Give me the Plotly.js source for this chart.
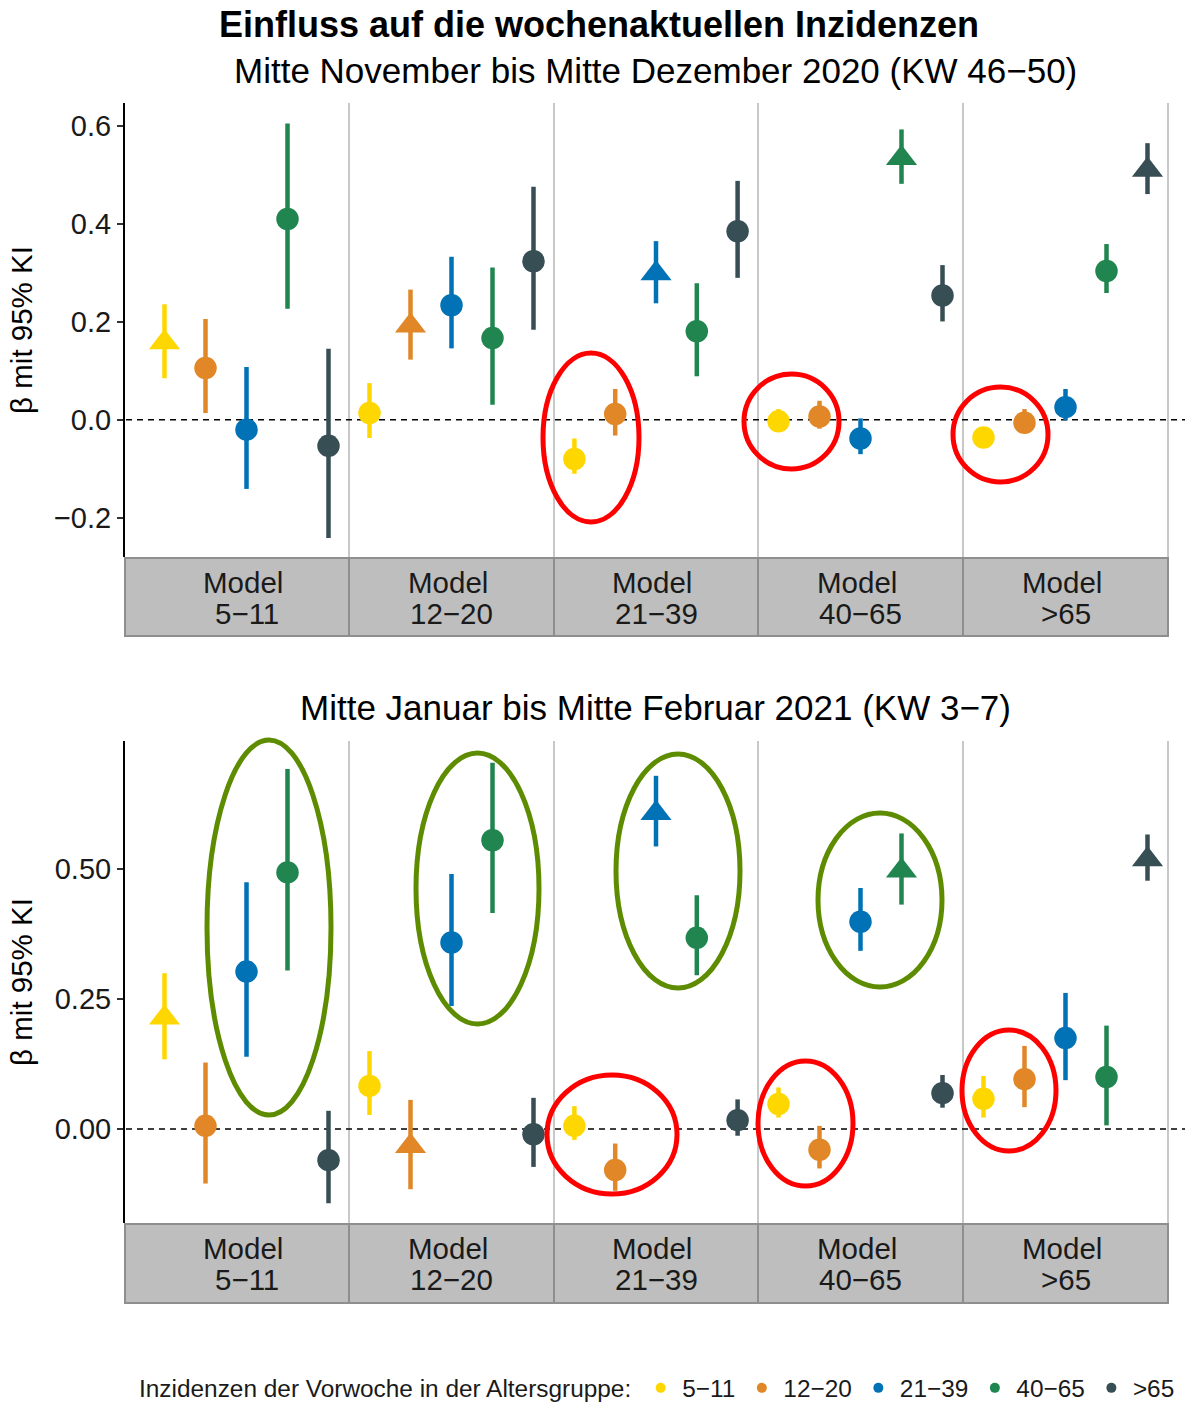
<!DOCTYPE html>
<html><head><meta charset="utf-8">
<script src="https://cdn.plot.ly/plotly-3.0.1.min.js"></script>
<style>body{margin:0;background:#fff}</style>
</head><body><div id="chart" style="width:1185px;height:1402px"></div>
<script>
// ---------- data ----------
const groups = ['5−11', '12−20', '21−39', '40−65', '>65'];
const modelLabels = ['5−11', '12−20', '21−39', '40−65', '>65'];
const groupColors = ['#FFD700', '#E18727', '#0072B5', '#20854E', '#374E55'];
const panelTitles = ['Mitte November bis Mitte Dezember 2020 (KW 46−50)', 'Mitte Januar bis Mitte Februar 2021 (KW 3−7)'];

// Panel 1: KW 46-50 — rows = model, columns = predictor group
const novEst = [
  [0.158, 0.106, -0.020, 0.410, -0.053],
  [0.014, 0.192, 0.234, 0.167, 0.324],
  [-0.080, 0.012, 0.299, 0.181, 0.385],
  [-0.003, 0.007, -0.038, 0.534, 0.254],
  [-0.036, -0.006, 0.026, 0.304, 0.510]
];
const novLo = [
  [0.085, 0.014, -0.141, 0.227, -0.241],
  [-0.037, 0.123, 0.146, 0.031, 0.184],
  [-0.110, -0.032, 0.238, 0.089, 0.290],
  [-0.022, -0.018, -0.070, 0.482, 0.201],
  [-0.050, -0.026, -0.001, 0.259, 0.461]
];
const novHi = [
  [0.236, 0.206, 0.108, 0.605, 0.145],
  [0.075, 0.266, 0.333, 0.311, 0.476],
  [-0.038, 0.063, 0.365, 0.279, 0.488],
  [0.022, 0.039, 0.003, 0.593, 0.316],
  [-0.022, 0.022, 0.063, 0.359, 0.565]
];
// Panel 2: KW 3-7
const janEst = [
  [0.214, 0.006, 0.303, 0.494, -0.060],
  [0.083, -0.033, 0.359, 0.556, -0.010],
  [0.006, -0.079, 0.608, 0.368, 0.017],
  [0.048, -0.040, 0.399, 0.497, 0.069],
  [0.058, 0.096, 0.175, 0.100, 0.519]
];
const janLo = [
  [0.134, -0.105, 0.139, 0.305, -0.143],
  [0.027, -0.116, 0.237, 0.416, -0.073],
  [-0.021, -0.119, 0.544, 0.296, -0.013],
  [0.022, -0.076, 0.343, 0.432, 0.041],
  [0.022, 0.042, 0.094, 0.007, 0.478]
];
const janHi = [
  [0.300, 0.128, 0.475, 0.693, 0.035],
  [0.150, 0.056, 0.491, 0.705, 0.060],
  [0.044, -0.028, 0.680, 0.450, 0.057],
  [0.080, 0.006, 0.464, 0.569, 0.104],
  [0.102, 0.160, 0.262, 0.199, 0.567]
];
const topTicks = [-0.2, 0, 0.2, 0.4, 0.6];
const topTickText = ['−0.2', '0.0', '0.2', '0.4', '0.6'];
const botTicks = [0, 0.25, 0.5];
const botTickText = ['0.00', '0.25', '0.50'];

// ---------- layout helpers ----------
const W = 1185, H = 1402;
const px = x => x / W;
const py = y => 1 - y / H;
const edges = [125, 349, 554, 758, 963, 1168];
const panels = [
  {est: novEst, lo: novLo, hi: novHi, top: 103, bot: 557, stripTop: 558, stripBot: 636, title: 70,
   yr: [-0.280, 0.647], ticks: topTicks, tickText: topTickText},
  {est: janEst, lo: janLo, hi: janHi, top: 741, bot: 1223, stripTop: 1224, stripBot: 1303, title: 707,
   yr: [-0.181, 0.747], ticks: botTicks, tickText: botTickText}
];

const data = [];
const layout = {
  width: W, height: H, margin: {l: 0, r: 0, t: 0, b: 0, autoexpand: false},
  paper_bgcolor: '#fff', plot_bgcolor: 'rgba(0,0,0,0)',
  font: {family: 'Liberation Sans, Arial, sans-serif', color: '#1a1a1a'},
  showlegend: true,
  title: {text: '<b>Einfluss auf die wochenaktuellen Inzidenzen</b>', x: px(599), xanchor: 'center',
          y: py(24), yanchor: 'middle', xref: 'paper', yref: 'paper',
          font: {size: 36, color: '#000', family: 'Liberation Sans, Arial, sans-serif'}},
  legend: {orientation: 'h', x: px(137), xanchor: 'left', y: py(1388), yanchor: 'middle',
           font: {size: 24.4, color: '#1a1a1a'}, itemwidth: 33, bgcolor: 'rgba(0,0,0,0)',
           title: {text: 'Inzidenzen der Vorwoche in der Altersgruppe:', side: 'left', font: {size: 24.4, color: '#1a1a1a'}}},
  shapes: [], annotations: []
};

panels.forEach((P, p) => {
  const yname = p === 0 ? 'y' : 'y2';
  const ykey = p === 0 ? 'yaxis' : 'yaxis2';
  const firstX = p === 0 ? 'x' : 'x6';
  layout[ykey] = {
    domain: [py(P.bot), py(P.top)], anchor: firstX, range: P.yr,
    tickmode: 'array', tickvals: P.ticks, ticktext: P.tickText,
    showline: true, linecolor: '#000', linewidth: 2,
    ticks: 'outside', ticklen: 6, tickwidth: 2, tickcolor: '#333',
    showgrid: false, zeroline: false, automargin: false,
    tickfont: {size: 29, color: '#1a1a1a'},
    title: {text: 'β mit 95% KI', font: {size: 29.5, color: '#000'}, standoff: 13}
  };
  for (let f = 0; f < 5; f++) {
    const n = p * 5 + f + 1;
    const xname = n === 1 ? 'x' : 'x' + n;
    const xkey = n === 1 ? 'xaxis' : 'xaxis' + n;
    const w = edges[f + 1] - edges[f];
    const r = f === 0 ? [4.5 - w / 41, 4.5] : [-0.5, 4.5];
    layout[xkey] = {
      domain: [px(edges[f]), px(edges[f + 1])], anchor: yname, type: 'category',
      categoryorder: 'array', categoryarray: groups, range: r,
      showticklabels: false, showgrid: false, zeroline: false, showline: false, ticks: '',
      automargin: false
    };
    for (let g = 0; g < 5; g++) {
      const e = P.est[f][g];
      const own = g === f;
      data.push({
        type: 'scatter', mode: 'markers', xaxis: xname, yaxis: yname,
        x: [groups[g]], y: [e], showlegend: false, hoverinfo: 'skip',
        marker: {color: groupColors[g], size: own ? 27 : 22.5, symbol: own ? 'triangle-up' : 'circle', line: {width: 0}},
        error_y: {type: 'data', symmetric: false, array: [P.hi[f][g] - e], arrayminus: [e - P.lo[f][g]],
                  color: groupColors[g], thickness: 4.5, width: 0}
      });
    }
    // strip box
    layout.shapes.push({type: 'rect', xref: 'paper', yref: 'paper', x0: px(edges[f]), x1: px(edges[f + 1]),
      y0: py(P.stripBot), y1: py(P.stripTop), fillcolor: '#BEBEBE', line: {color: '#8E8E8E', width: 2}, layer: 'above'});
    layout.annotations.push({xref: xname, yref: 'paper', x: groups[2], y: py(P.stripTop + 24), text: 'Model',
      showarrow: false, xanchor: 'center', yanchor: 'middle', xshift: -4, font: {size: 29.5, color: '#1a1a1a'}});
    layout.annotations.push({xref: xname, yref: 'paper', x: groups[2], y: py(P.stripTop + 55), text: modelLabels[f],
      showarrow: false, xanchor: 'center', yanchor: 'middle', font: {size: 29.5, color: '#1a1a1a'}});
    // panel separator
    layout.shapes.push({type: 'line', xref: 'paper', yref: 'paper', x0: px(edges[f + 1]), x1: px(edges[f + 1]),
      y0: py(P.bot), y1: py(P.top), line: {color: '#C8C8C8', width: 2}, layer: 'below'});
  }
  // zero reference line
  layout.shapes.push({type: 'line', xref: 'paper', yref: yname, x0: px(126), x1: 1, y0: 0, y1: 0,
    line: {color: '#000', width: 1.5, dash: '6px,5px'}, layer: 'below'});
  // panel subtitle
  layout.annotations.push({xref: 'paper', yref: 'paper', x: px(655), y: py(P.title), text: panelTitles[p],
    showarrow: false, xanchor: 'center', yanchor: 'middle', font: {size: 35, color: '#000'}});
});

// legend entries
groups.forEach((g, i) => {
  data.push({type: 'scatter', mode: 'markers', x: [null], y: [null], xaxis: 'x', yaxis: 'y', name: g,
    marker: {color: groupColors[i], size: 10, symbol: 'circle'}, showlegend: true, hoverinfo: 'skip'});
});

// highlight ellipses (annotation marks)
const redEllipses = [[541, 641, 351, 524], [742, 841, 372, 471], [951, 1050, 385, 484],
                     [545, 679, 1073, 1196], [756, 855, 1059, 1188], [960, 1058, 1028, 1153]];
const greenEllipses = [[205, 333, 738, 1117], [414, 541, 751, 1026], [614, 742, 752, 990], [816, 944, 811, 989]];
redEllipses.forEach(e => layout.shapes.push({type: 'circle', xref: 'paper', yref: 'paper',
  x0: px(e[0] + 2), x1: px(e[1] - 2), y0: py(e[3] - 2), y1: py(e[2] + 2), line: {color: '#FF0000', width: 5}}));
greenEllipses.forEach(e => layout.shapes.push({type: 'circle', xref: 'paper', yref: 'paper',
  x0: px(e[0] + 2), x1: px(e[1] - 2), y0: py(e[3] - 2), y1: py(e[2] + 2), line: {color: '#5E8C00', width: 5}}));

Plotly.newPlot('chart', data, layout, {staticPlot: true, displayModeBar: false});
</script></body></html>
